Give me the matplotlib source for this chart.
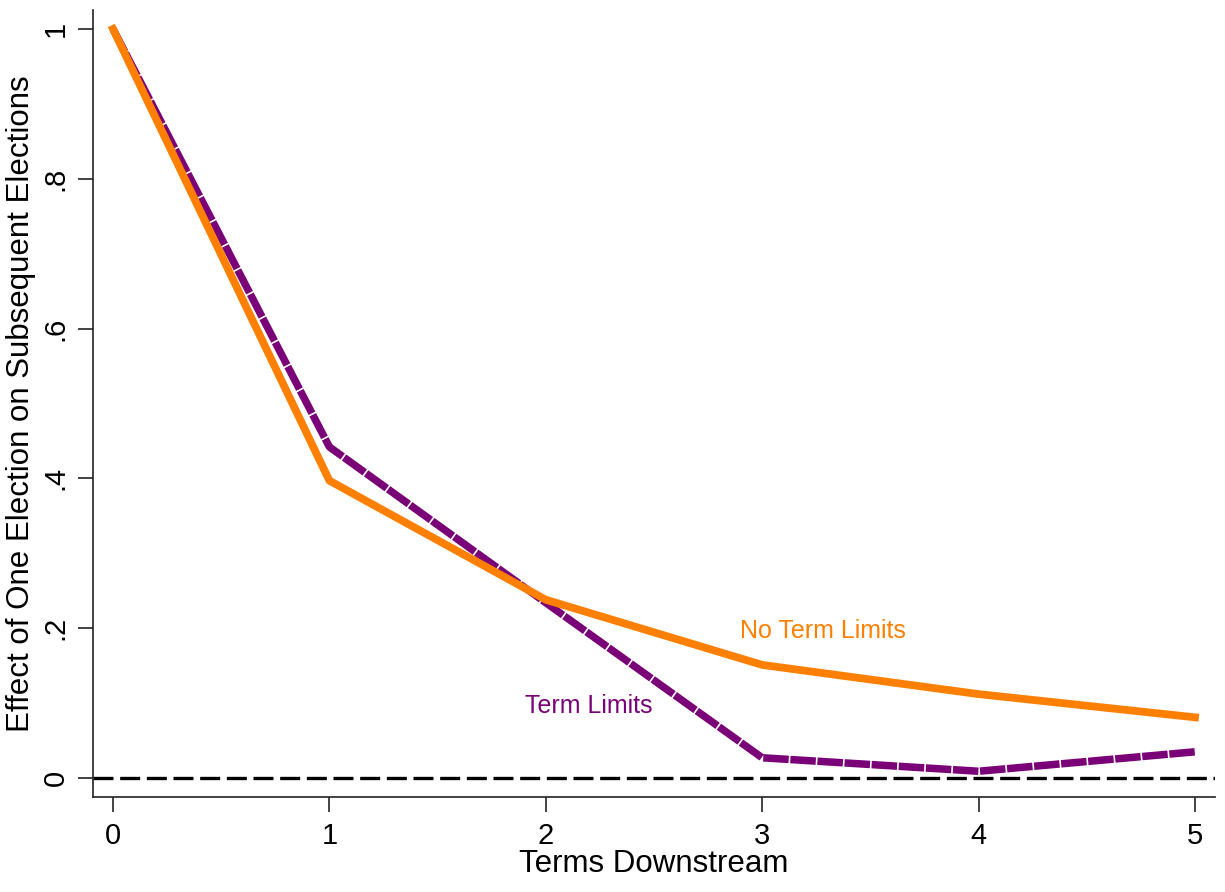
import matplotlib
matplotlib.use("Agg")
import matplotlib.pyplot as plt

terms = [0, 1, 2, 3, 4, 5]
no_term_limits = [1.0, 0.397, 0.238, 0.151, 0.112, 0.081]
term_limits = [1.0, 0.442, 0.234, 0.027, 0.009, 0.035]
y_ticks = [0, 0.2, 0.4, 0.6, 0.8, 1.0]
y_tick_labels = ["0", ".2", ".4", ".6", ".8", "1"]

plt.rcParams["font.family"] = ["Liberation Sans", "DejaVu Sans"]

fig = plt.figure(figsize=(12.25, 8.92), dpi=100)
ax = fig.add_axes([93 / 1225, 1 - 797 / 892, (1215 - 93) / 1225, (797 - 10) / 892])

purple = "#7a0077"
orange = "#ff8000"

# reference line at zero
ax.axhline(0, color="black", lw=2.4, dashes=(6.0, 2.0), zorder=1)
ax.plot(terms, term_limits, color=purple, lw=5.4, dashes=(3.4, 0.22),
        solid_capstyle="butt", zorder=2)
ax.plot(terms, no_term_limits, color=orange, lw=5.6, zorder=3)

ax.text(2.897, 0.196, "No Term Limits", color=orange, fontsize=18,
        ha="left", va="center")
ax.text(1.904, 0.096, "Term Limits", color=purple, fontsize=18,
        ha="left", va="center")

x_per = (1195 - 113) / 5
ax.set_xlim(-(113 - 93) / x_per, 5 + (1215 - 1195) / x_per)
y_per = (778 - 29)
ax.set_ylim(-(797 - 778) / y_per, 1 + (29 - 10) / y_per)

ax.set_xticks(terms)
ax.set_xticklabels([str(t) for t in terms], fontsize=21)
ax.set_yticks(y_ticks)
ax.set_yticklabels(y_tick_labels, fontsize=21, rotation=90, va="center")

ax.tick_params(axis="x", length=11, width=1.2, color="#222222", pad=7)
ax.tick_params(axis="y", length=11, width=1.2, color="#222222", pad=6)
for side in ["top", "right"]:
    ax.spines[side].set_visible(False)
for side in ["left", "bottom"]:
    ax.spines[side].set_linewidth(1.2)
    ax.spines[side].set_color("#222222")

ax.set_xlabel("Terms Downstream", fontsize=22.5, labelpad=-1)
ax.set_ylabel("Effect of One Election on Subsequent Elections", fontsize=22.5,
              labelpad=4)

fig.savefig("out.png", dpi=100, facecolor="white")
